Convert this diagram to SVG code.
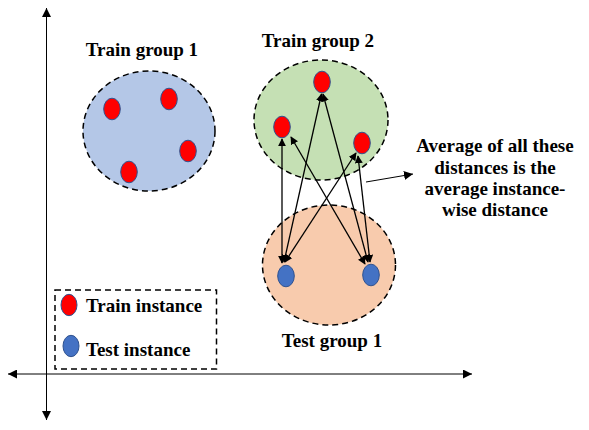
<svg xmlns="http://www.w3.org/2000/svg" width="589" height="430" viewBox="0 0 589 430">
<style>
.t{font-family:"Liberation Serif","DejaVu Serif",serif;font-weight:bold;font-size:19px;fill:#000}
.grp{stroke:#000;stroke-width:1.5;stroke-dasharray:6,4}
.red{fill:#FF0000;stroke:#2F528F;stroke-width:1}
.blue{fill:#4472C4;stroke:#2F528F;stroke-width:1}
.ln{stroke:#000;stroke-width:1.3;fill:none;marker-start:url(#ah);marker-end:url(#ah)}
.ax{stroke:#000;stroke-width:1;fill:none}
</style>
<defs>
<marker id="ah" viewBox="0 0 10 10" refX="9" refY="5" markerWidth="8" markerHeight="8" markerUnits="userSpaceOnUse" orient="auto-start-reverse"><path d="M0,0 L10,5 L0,10 z" fill="#000"/></marker>
<marker id="ax" viewBox="0 0 10 10" refX="10" refY="5" markerWidth="9" markerHeight="9" markerUnits="userSpaceOnUse" orient="auto-start-reverse"><path d="M0,0 L10,5 L0,10 z" fill="#000"/></marker>
</defs>
<rect width="589" height="430" fill="#fff"/>
<g id="axes">
<line class="ax" x1="46.5" y1="420" x2="46.5" y2="8" marker-start="url(#ax)" marker-end="url(#ax)"/>
<line class="ax" x1="8" y1="374" x2="472" y2="374" marker-start="url(#ax)" marker-end="url(#ax)"/>
</g>
<g id="train-group-1">
<ellipse class="grp" cx="149" cy="131" rx="66" ry="60" fill="#B4C7E7"/>
<text class="t" x="142" y="56" text-anchor="middle">Train group 1</text>
<ellipse class="red" cx="112" cy="109" rx="8.3" ry="10.8"/>
<ellipse class="red" cx="169" cy="99" rx="8.3" ry="10.8"/>
<ellipse class="red" cx="188" cy="151" rx="8.3" ry="10.8"/>
<ellipse class="red" cx="129" cy="172" rx="8.3" ry="10.8"/>
</g>
<g id="train-group-2">
<ellipse class="grp" cx="321" cy="120" rx="67" ry="60" fill="#C5E0B4"/>
<text class="t" x="318" y="47" text-anchor="middle">Train group 2</text>
<ellipse class="red" cx="322" cy="82" rx="8.3" ry="10.8"/>
<ellipse class="red" cx="282" cy="127" rx="8.3" ry="10.8"/>
<ellipse class="red" cx="362" cy="143" rx="8.3" ry="10.8"/>
</g>
<g id="test-group-1">
<ellipse class="grp" cx="329" cy="265" rx="66.5" ry="60" fill="#F8CBAD"/>
<text class="t" x="332" y="347" text-anchor="middle">Test group 1</text>
<ellipse class="blue" cx="286" cy="276" rx="8.3" ry="10.8"/>
<ellipse class="blue" cx="371" cy="275" rx="8.3" ry="10.8"/>
</g>
<g id="note">
<text class="t" text-anchor="middle"><tspan x="495" y="152">Average of all these</tspan><tspan x="495" y="173.5">distances is the</tspan><tspan x="495" y="195">average instance-</tspan><tspan x="495" y="216">wise distance</tspan></text>
</g>
<g id="legend">
<rect x="55" y="290" width="161.5" height="79" fill="none" class="grp"/>
<ellipse class="red" cx="69" cy="305" rx="8" ry="10.7"/>
<ellipse class="blue" cx="71" cy="346" rx="8" ry="10.7"/>
<text class="t" x="86" y="312">Train instance</text>
<text class="t" x="86" y="356">Test instance</text>
</g>
<g id="connectors">
<line class="ln" x1="282" y1="263" x2="282" y2="139"/>
<line class="ln" x1="284" y1="262" x2="321.5" y2="94"/>
<line class="ln" x1="285" y1="262" x2="356" y2="153"/>
<line class="ln" x1="365" y1="264" x2="291" y2="137"/>
<line class="ln" x1="368" y1="262" x2="323" y2="94"/>
<line class="ln" x1="370" y1="262" x2="358" y2="156"/>
<line x1="366" y1="182" x2="413" y2="174" stroke="#000" stroke-width="1" marker-end="url(#ax)"/>
</g>
</svg>
